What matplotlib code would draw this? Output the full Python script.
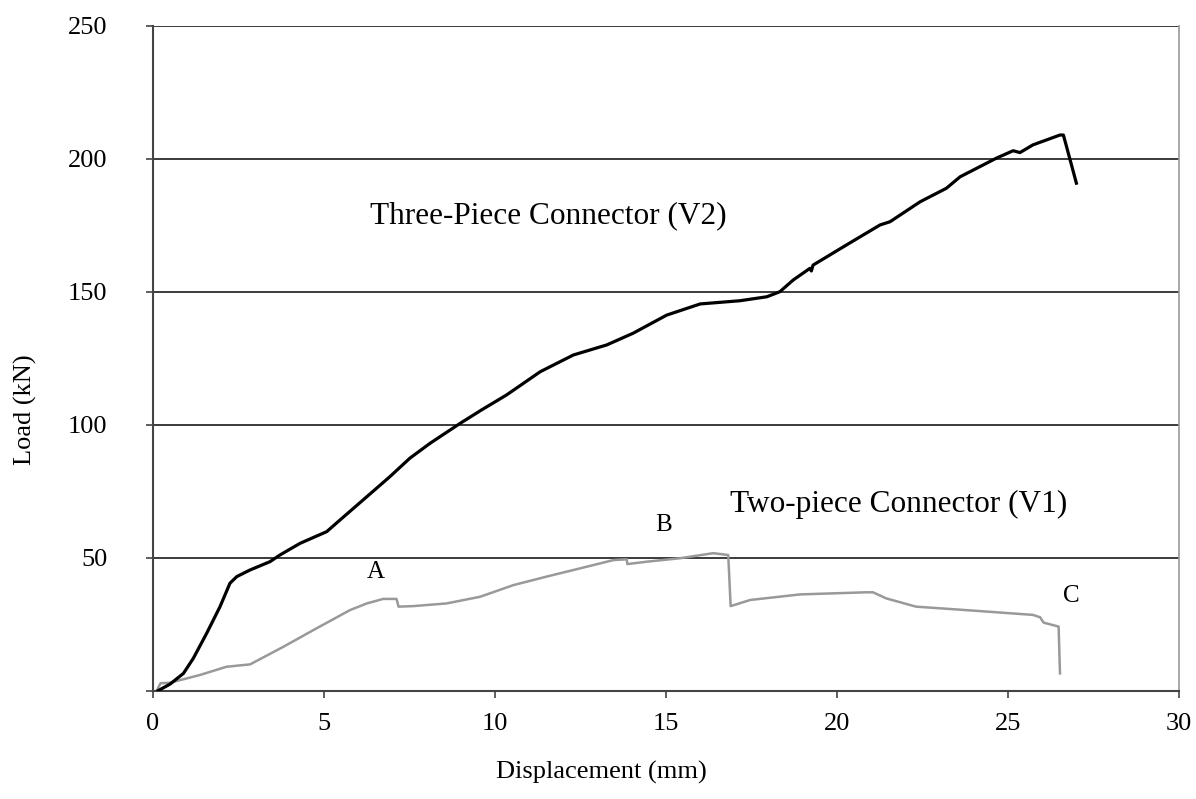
import matplotlib
matplotlib.use("Agg")
import matplotlib.pyplot as plt

plt.rcParams['font.family'] = ['Liberation Serif', 'DejaVu Serif']

# Three-Piece Connector (V2)
v2_disp = [0.15, 0.5, 0.89, 1.18, 1.57, 1.96, 2.25, 2.45, 2.84, 3.42, 3.71, 4.30,
           5.08, 5.47, 6.25, 6.93, 7.51, 8.10, 8.98, 9.6, 10.34, 11.32, 12.29, 13.27,
           14.04, 15.02, 16.0, 17.16, 17.95, 18.33, 18.72, 19.21, 19.25, 19.3, 20.28,
           21.26, 21.55, 22.43, 23.2, 23.6, 24.66, 25.15, 25.35, 25.73, 26.52, 26.62, 27.0]
v2_load = [0.0, 2.5, 6.5, 12.2, 21.6, 31.6, 40.4, 42.9, 45.4, 48.5, 51.0, 55.4,
           59.8, 64.2, 72.9, 80.5, 87.4, 93.0, 100.5, 105.5, 111.2, 119.9, 126.2, 130.0,
           134.4, 141.2, 145.4, 146.6, 148.1, 150.0, 154.4, 158.8, 157.8, 160.0, 167.6,
           175.1, 176.3, 183.8, 188.9, 193.2, 200.2, 203.0, 202.3, 205.2, 208.9, 208.9, 190.8]

# Two-piece Connector (V1)
v1_disp = [0.12, 0.22, 0.5, 1.37, 2.15, 2.84, 3.81, 4.79, 5.76, 6.25, 6.73, 7.12,
           7.18, 7.61, 8.58, 9.56, 10.54, 11.51, 12.49, 13.46, 13.85, 13.87, 14.44,
           15.41, 16.38, 16.82, 16.89, 17.46, 18.92, 20.87, 21.05, 21.44, 22.31, 23.77,
           25.73, 25.94, 26.04, 26.48, 26.52]
v1_load = [0.3, 2.8, 3.0, 5.9, 9.0, 9.9, 16.5, 23.5, 30.3, 32.8, 34.5, 34.5,
           31.6, 31.8, 32.8, 35.3, 39.7, 42.9, 46.0, 49.1, 49.4, 47.6, 48.5,
           49.8, 51.7, 51.0, 31.8, 34.1, 36.2, 37.0, 37.0, 34.7, 31.6, 30.3,
           28.5, 27.6, 25.6, 24.1, 6.5]

x_ticks = [0, 5, 10, 15, 20, 25, 30]
y_ticks = [0, 50, 100, 150, 200, 250]
y_tick_labels = ['', '50', '100', '150', '200', '250']

W, H = 1196, 799
fig = plt.figure(figsize=(W / 100, H / 100), dpi=100)
ax = fig.add_axes([153 / W, 1 - 690.7 / H, (1179 - 153) / W, (690.7 - 25.7) / H])

for yv in y_ticks[1:]:
    ax.axhline(yv, color='#1a1a1a', lw=1.2, zorder=1)

ax.plot(v1_disp, v1_load, color='#999999', lw=1.8, zorder=2)
ax.plot(v2_disp, v2_load, color='black', lw=2.3, zorder=3)

ax.set_xlim(0, 30)
ax.set_ylim(0, 250)
ax.set_xticks(x_ticks)
ax.set_yticks(y_ticks)
ax.set_yticklabels(y_tick_labels)

for side in ['left', 'bottom']:
    ax.spines[side].set_color('#444444')
    ax.spines[side].set_linewidth(1.5)
ax.spines['right'].set_color('#999999')
ax.spines['right'].set_linewidth(1.2)
ax.spines['top'].set_visible(False)

ax.tick_params(axis='x', direction='out', length=5, width=1.2, color='#444444',
               labelsize=19, pad=11)
ax.tick_params(axis='y', direction='out', length=5, width=1.2, color='#444444',
               labelsize=19, pad=28)

fig.text(601 / W, 1 - 772 / H, 'Displacement (mm)', ha='center', va='center', fontsize=19)
fig.text(25 / W, 1 - 410 / H, 'Load (kN)', ha='center', va='center', fontsize=19,
         rotation=90)

ax.text(6.35, 175.8, 'Three-Piece Connector (V2)', fontsize=22.5, ha='left', va='baseline')
ax.text(16.87, 67.3, 'Two-piece Connector (V1)', fontsize=22.5, ha='left', va='baseline')
ax.text(6.52, 42.3, 'A', fontsize=18, ha='center', va='baseline')
ax.text(14.92, 60.2, 'B', fontsize=18, ha='center', va='baseline')
ax.text(26.86, 33.5, 'C', fontsize=18, ha='center', va='baseline')

fig.savefig('out.png', dpi=100)
